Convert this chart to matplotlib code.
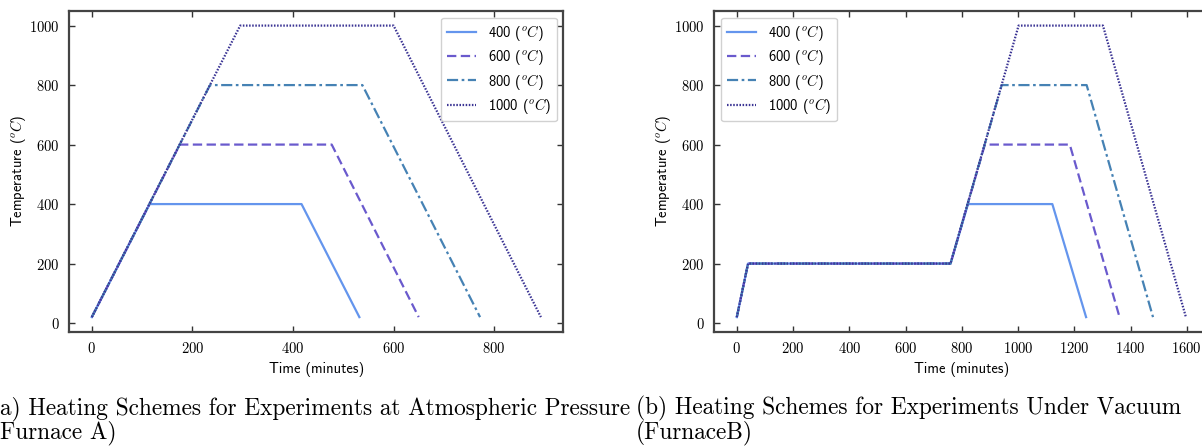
import matplotlib
matplotlib.use("Agg")
import matplotlib.pyplot as plt
from matplotlib.ticker import FixedLocator


# furnace A (atmospheric pressure): time in minutes, temperature in deg C
A_TIME = {
    "400": [0, 115, 417, 532],
    "600": [0, 175, 477, 650],
    "800": [0, 235, 538, 772],
    "1000": [0, 295, 600, 893],
}
A_TEMP = {
    "400": [20, 400, 400, 20],
    "600": [20, 600, 600, 20],
    "800": [20, 800, 800, 20],
    "1000": [20, 1000, 1000, 20],
}

# furnace B (vacuum): 200 C pre-hold then ramp to target
B_TIME = {
    "400": [0, 40, 760, 822, 1122, 1242],
    "600": [0, 40, 760, 882, 1184, 1361],
    "800": [0, 40, 760, 942, 1244, 1480],
    "1000": [0, 40, 760, 1002, 1302, 1597],
}
B_TEMP = {
    "400": [20, 200, 200, 400, 400, 20],
    "600": [20, 200, 200, 600, 600, 20],
    "800": [20, 200, 200, 800, 800, 20],
    "1000": [20, 200, 200, 1000, 1000, 20],
}

SERIES = ["400", "600", "800", "1000"]
STYLES = {
    "400": dict(color="#6495ED", linestyle="-"),
    "600": dict(color="#6A5ACD", linestyle=(0, (4.2, 2))),
    "800": dict(color="#4682B4", linestyle=(0, (5, 1.6, 1.2, 1.6))),
    "1000": dict(color="#3B3494", linestyle=(0, (0.7, 0.7))),
}

A_XTICKS = [0, 200, 400, 600, 800]
B_XTICKS = [0, 200, 400, 600, 800, 1000, 1200, 1400, 1600]
YTICKS = [0, 200, 400, 600, 800, 1000]

CAPTION_A = ["a) Heating Schemes for Experiments at Atmospheric Pressure", "Furnace A)"]
CAPTION_B = ["(b) Heating Schemes for Experiments Under Vacuum", "(FurnaceB)"]


def style_axes(ax, xticks):
    ax.xaxis.set_major_locator(FixedLocator(xticks))
    ax.yaxis.set_major_locator(FixedLocator(YTICKS))
    ax.tick_params(direction="in", top=True, right=True, length=4.5, width=1.0,
                   color="#333333", labelsize=10.5, pad=7)
    for label in ax.get_xticklabels() + ax.get_yticklabels():
        label.set_family("cmr10")
    for spine in ax.spines.values():
        spine.set_linewidth(1.6)
        spine.set_color("#444444")
    ax.set_xlabel("Time (minutes)", family="cmss10", fontsize=10.5, labelpad=4)
    ax.set_ylabel(r"Temperature ($^oC$)", family="cmss10", fontsize=10.5, labelpad=1)


def draw(ax, times, temps, loc):
    for key in SERIES:
        ax.plot(times[key], temps[key], linewidth=1.6, label=rf"{key} ($^oC$)", **STYLES[key])
    leg = ax.legend(loc=loc, prop={"family": "cmss10", "size": 10.5}, handlelength=2.0,
                    labelspacing=0.28, borderaxespad=0.45, fancybox=True,
                    edgecolor="#cccccc", framealpha=0.9)
    return leg


def main() -> None:
    plt.rcParams.update({
        "mathtext.fontset": "cm",
        "axes.formatter.use_mathtext": True,
    })
    fig = plt.figure(figsize=(12.02, 4.46), dpi=100)
    ax_a = fig.add_axes([0.0577, 0.2563, 0.411, 0.719])
    ax_b = fig.add_axes([0.5943, 0.2563, 0.411, 0.719])

    draw(ax_a, A_TIME, A_TEMP, "upper right")
    draw(ax_b, B_TIME, B_TEMP, "upper left")
    style_axes(ax_a, A_XTICKS)
    style_axes(ax_b, B_XTICKS)

    fig.text(0.0, 0.112, CAPTION_A[0] + "\n" + CAPTION_A[1], family="cmr10",
             fontsize=16.8, va="top", ha="left", linespacing=0.97)
    fig.text(0.529, 0.112, CAPTION_B[0] + "\n" + CAPTION_B[1], family="cmr10",
             fontsize=16.8, va="top", ha="left", linespacing=0.97)

    fig.savefig("out.png", dpi=100)
    plt.close(fig)


if __name__ == "__main__":
    main()
